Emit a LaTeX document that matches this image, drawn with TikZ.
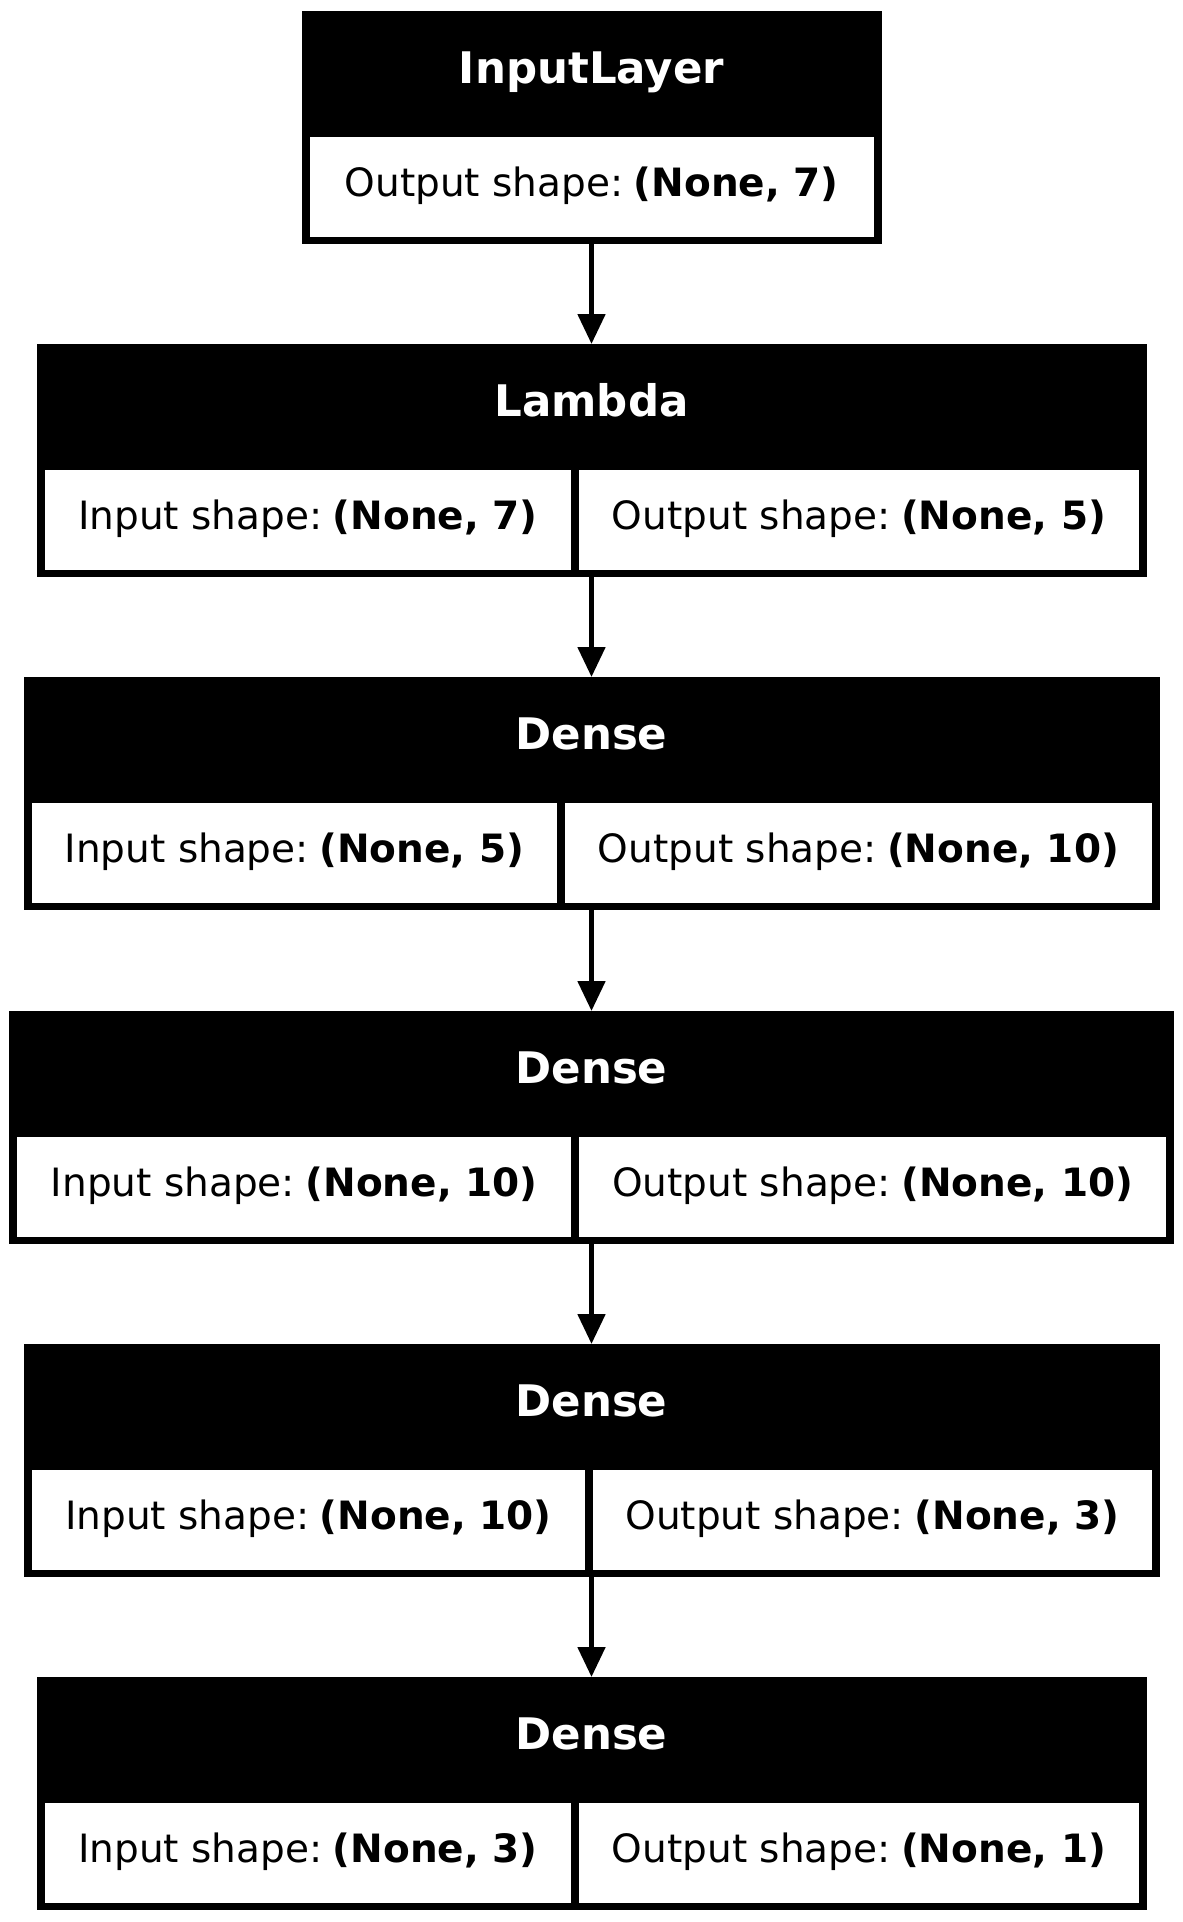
\documentclass[tikz,border=0pt]{standalone}
\usepackage{fontspec}
\setmainfont{DejaVu Sans}
\usetikzlibrary{arrows.meta}
\newcommand{\bodyfnt}{\fontsize{39pt}{46pt}\selectfont}
\newcommand{\titlefnt}{\fontsize{43.5pt}{52pt}\selectfont\bfseries}
\newcommand{\shp}[2]{#1 shape:\hspace{0.27em}\textbf{#2}}
\tikzset{
  layerbox/.style={fill=black, inner sep=0pt, anchor=north, minimum height=233pt},
  cellbox/.style={fill=white, inner sep=0pt, anchor=north west, minimum height=100pt,
    text height=25pt, text depth=7pt, font=\bodyfnt},
  titletext/.style={text=white, anchor=base, inner sep=0pt, font=\titlefnt},
  flow/.style={line width=5pt, -{Triangle[width=27pt,length=30pt]}},
}
\begin{document}
\begin{tikzpicture}[x=1pt, y=-1pt]
\useasboundingbox (0,0) rectangle (1183,1922);
\fill[white] (0,0) rectangle (1183,1922);

% Box 1: InputLayer
\node[layerbox, minimum width=580pt] (b1) at (591.5,11) {};
\node[titletext] (t1) at (591.5,83) {InputLayer};
\node[cellbox, minimum width=564pt] (c1) at (309.5,137) {\shp{Output}{(None, 7)}};

% Box 2: Lambda
\node[layerbox, minimum width=1110pt] (b2) at (591.5,344) {};
\node[titletext] (t2) at (591.5,416) {Lambda};
\node[cellbox, minimum width=526.5pt] (c2l) at (44.5,470) {\shp{Input}{(None, 7)}};
\node[cellbox, minimum width=559.5pt] (c2r) at (579,470) {\shp{Output}{(None, 5)}};

% Box 3: Dense
\node[layerbox, minimum width=1136pt] (b3) at (591.5,677) {};
\node[titletext] (t3) at (591.5,749) {Dense};
\node[cellbox, minimum width=525.5pt] (c3l) at (31.5,803) {\shp{Input}{(None, 5)}};
\node[cellbox, minimum width=586.5pt] (c3r) at (565,803) {\shp{Output}{(None, 10)}};

% Box 4: Dense
\node[layerbox, minimum width=1165pt] (b4) at (591.5,1011) {};
\node[titletext] (t4) at (591.5,1083) {Dense};
\node[cellbox, minimum width=554pt] (c4l) at (17,1137) {\shp{Input}{(None, 10)}};
\node[cellbox, minimum width=587pt] (c4r) at (579,1137) {\shp{Output}{(None, 10)}};

% Box 5: Dense
\node[layerbox, minimum width=1136pt] (b5) at (591.5,1344) {};
\node[titletext] (t5) at (591.5,1416) {Dense};
\node[cellbox, minimum width=553.5pt] (c5l) at (31.5,1470) {\shp{Input}{(None, 10)}};
\node[cellbox, minimum width=558.5pt] (c5r) at (593,1470) {\shp{Output}{(None, 3)}};

% Box 6: Dense
\node[layerbox, minimum width=1110pt] (b6) at (591.5,1677) {};
\node[titletext] (t6) at (591.5,1749) {Dense};
\node[cellbox, minimum width=526.5pt] (c6l) at (44.5,1803) {\shp{Input}{(None, 3)}};
\node[cellbox, minimum width=559.5pt] (c6r) at (579,1803) {\shp{Output}{(None, 1)}};

% Connectors
\draw[flow] (b1.south) -- (b2.north);
\draw[flow] (b2.south) -- (b3.north);
\draw[flow] (b3.south) -- (b4.north);
\draw[flow] (b4.south) -- (b5.north);
\draw[flow] (b5.south) -- (b6.north);
\end{tikzpicture}
\end{document}
